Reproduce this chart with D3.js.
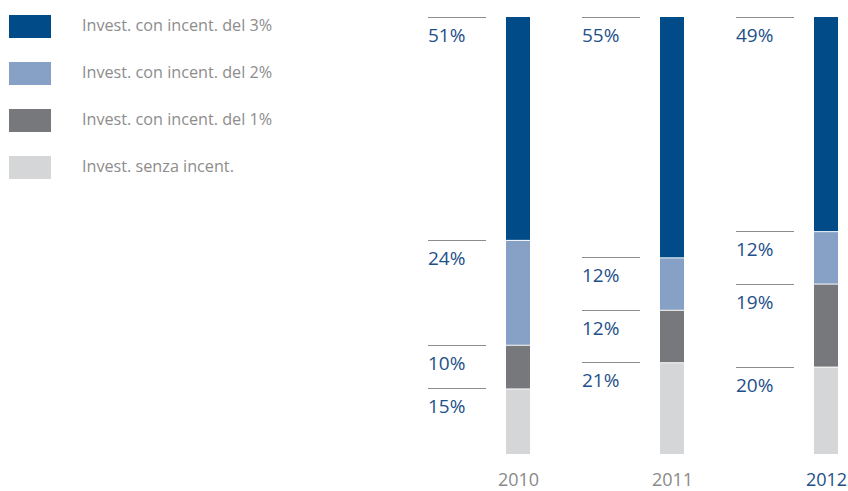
<!DOCTYPE html>
<html><head><meta charset="utf-8">
<script src="https://cdn.jsdelivr.net/npm/d3@7"></script>
<style>body{margin:0;background:#fff}svg{display:block}text{font-family:"Open Sans","Noto Sans",sans-serif}</style>
</head><body>
<svg id="c" width="848" height="491"></svg>
<script>
const years = ["2010","2011","2012"];
const seriesNames = ["Invest. senza incent.","Invest. con incent. del 1%","Invest. con incent. del 2%","Invest. con incent. del 3%"];
const noIncent = [15,21,20];
const incent1 = [10,12,19];
const incent2 = [24,12,12];
const incent3 = [51,55,49];
const colors = ["#d5d6d8","#77787c","#87a1c6","#004b88"];

const svg = d3.select("#c");
const values = [noIncent, incent1, incent2, incent3];
const data = years.map((y,i)=>{const o={year:y}; seriesNames.forEach((s,k)=>o[s]=values[k][i]); return o;});
const stack = d3.stack().keys(seriesNames)(data);

const x = d3.scalePoint().domain(years).range([518, 826]);
const y = d3.scaleLinear().domain([0,100]).range([454,17]);
const bw = 24;

// legend (top = 3%)
const legendOrder = [3,2,1,0];
const lg = svg.append("g");
legendOrder.forEach((k,i)=>{
  const gy = 15 + i*47;
  lg.append("rect").attr("x",9).attr("y",gy).attr("width",42).attr("height",23).attr("fill",colors[k]);
  lg.append("text").attr("x",82).attr("y",gy+15.5).attr("font-size",16.2).attr("fill","#8d8d8d").text(seriesNames[k]);
});

// bars
stack.forEach((layer,k)=>{
  svg.append("g").selectAll("rect").data(layer).join("rect")
    .attr("x",d=>x(d.data.year)-bw/2)
    .attr("y",d=>y(d[1]) + (k===3?0:1))
    .attr("width",bw)
    .attr("height",d=>Math.max(0, y(d[0]) - y(d[1]) - (k===3?0:1)))
    .attr("fill",colors[k]);
});

// label lines and values
stack.forEach((layer,k)=>{
  const g = svg.append("g");
  layer.forEach(d=>{
    const bx = x(d.data.year)-bw/2;
    const ly = Math.round(y(d[1]))+0.5;
    g.append("line").attr("x1",bx-78).attr("x2",bx-20).attr("y1",ly).attr("y2",ly)
      .attr("stroke","#8c8c8c").attr("stroke-width",1.2);
    g.append("text").attr("x",bx-78).attr("y",ly+24).attr("font-size",19).attr("fill","#1e5089")
      .text((d[1]-d[0])+"%");
  });
});

// x axis labels
const xa = svg.append("g").attr("transform","translate(0,454)")
  .call(d3.axisBottom(x).tickSize(0).tickPadding(19));
xa.select(".domain").remove();
xa.selectAll("text").attr("font-size",18).attr("font-family","'Open Sans','Noto Sans',sans-serif")
  .attr("fill",(d,i)=>i===2?"#1e5089":"#8a8a8a").attr("dy","0.71em");
</script>
</body></html>
